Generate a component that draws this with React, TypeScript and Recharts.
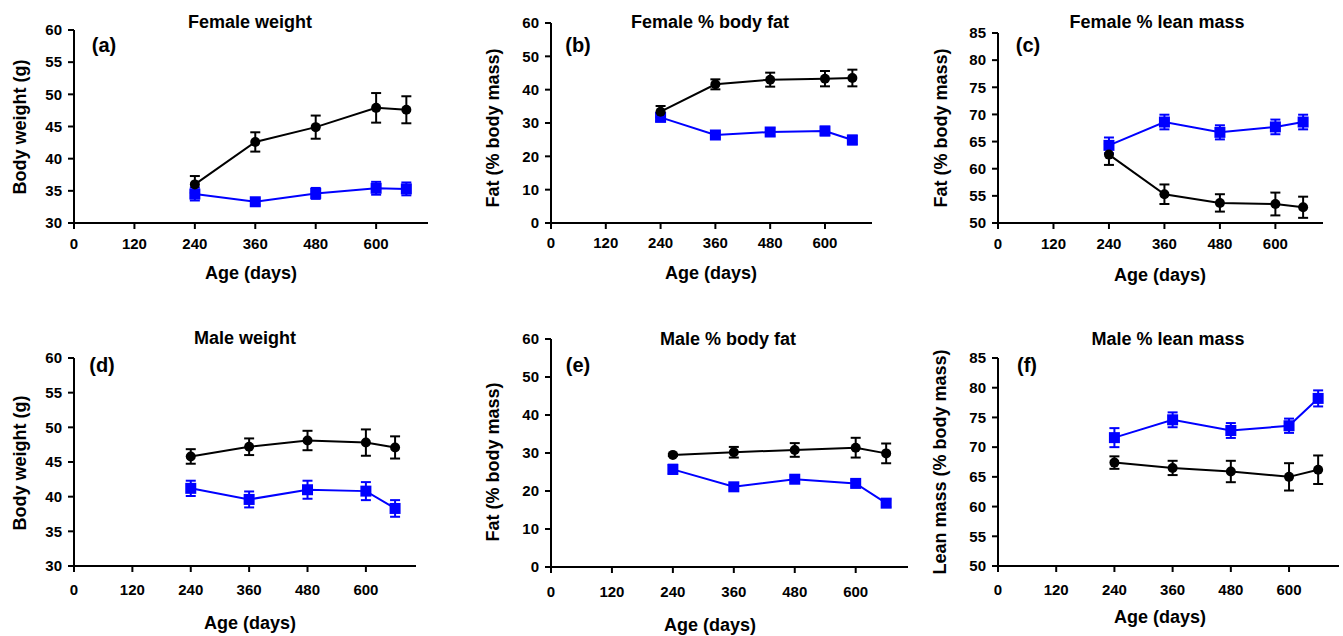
import React from 'react';
import { LineChart, Line, XAxis, YAxis, ErrorBar } from 'recharts';

const AGES = [240, 360, 480, 600, 660];
const X_TICKS = [0, 120, 240, 360, 480, 600];
const W_TICKS = [30, 35, 40, 45, 50, 55, 60];
const F_TICKS = [0, 10, 20, 30, 40, 50, 60];
const L_TICKS = [50, 55, 60, 65, 70, 75, 80, 85];

// (a) Female weight
const aBlack = [36.0, 42.6, 44.9, 47.9, 47.6];
const aBlackErr = [1.3, 1.5, 1.8, 2.3, 2.1];
const aBlue = [34.5, 33.3, 34.6, 35.4, 35.3];
const aBlueErr = [1.0, 0.5, 0.85, 1.0, 1.0];
// (b) Female % body fat
const bBlack = [33.4, 41.6, 43.0, 43.3, 43.5];
const bBlackErr = [1.7, 1.5, 2.1, 2.3, 2.5];
const bBlue = [31.7, 26.4, 27.3, 27.6, 24.9];
const bBlueErr = [1.2, 0.8, 1.2, 1.3, 1.3];
// (c) Female % lean mass
const cBlack = [62.6, 55.3, 53.7, 53.5, 52.9];
const cBlackErr = [1.9, 1.8, 1.6, 2.1, 1.95];
const cBlue = [64.3, 68.6, 66.7, 67.7, 68.6];
const cBlueErr = [1.45, 1.35, 1.3, 1.35, 1.35];
// (d) Male weight
const dBlack = [45.8, 47.2, 48.1, 47.8, 47.1];
const dBlackErr = [1.05, 1.2, 1.4, 1.9, 1.6];
const dBlue = [41.2, 39.6, 41.0, 40.8, 38.3];
const dBlueErr = [1.1, 1.15, 1.3, 1.3, 1.2];
// (e) Male % body fat
const eBlack = [29.5, 30.2, 30.8, 31.4, 29.9];
const eBlackErr = [0.3, 1.4, 1.8, 2.6, 2.6];
const eBlue = [25.7, 21.1, 23.1, 22.0, 16.8];
const eBlueErr = [1.2, 0.8, 0.8, 0.8, 1.0];
// (f) Male % lean mass
const fBlack = [67.4, 66.5, 65.9, 65.0, 66.2];
const fBlackErr = [1.05, 1.2, 1.8, 2.3, 2.4];
const fBlue = [71.6, 74.6, 72.8, 73.6, 78.2];
const fBlueErr = [1.6, 1.25, 1.25, 1.2, 1.35];

const FONT = '"Liberation Sans", Arial, Helvetica, sans-serif';
const BLUE = '#0000ff';
const YW = 80;
const MT = 30;

type PanelProps = {
  pl: number; pt: number; pr: number; pb: number;
  domain: [number, number]; yTicks: number[];
  black: number[]; blackErr: number[]; blue: number[]; blueErr: number[];
  title: string; letter: string; ylabel: string;
  titleC: [number, number]; letterC: [number, number]; ylabelC: [number, number]; xlabelC: [number, number];
  xTickMargin: number;
};

const Square = (props: any) => {
  const { cx, cy, index } = props;
  if (cx == null || cy == null) return <g key={`s${index}`} />;
  return <rect key={`s${index}`} x={cx - 5.5} y={cy - 5.5} width={11} height={11} fill={BLUE} />;
};

const Panel = (p: PanelProps) => {
  const data = AGES.map((age, i) => ({
    age,
    black: p.black[i], blackErr: p.blackErr[i],
    blue: p.blue[i], blueErr: p.blueErr[i],
  }));
  const pw = p.pr - p.pl;
  const ph = p.pb - p.pt;
  const txt: React.CSSProperties = {
    position: 'absolute', fontWeight: 'bold', fontSize: 18, lineHeight: 1,
    whiteSpace: 'nowrap', color: '#000', transform: 'translate(-50%,-50%)',
  };
  return (
    <>
      <div style={{ position: 'absolute', left: p.pl - YW, top: p.pt - MT }}>
        <LineChart width={pw + YW + 4} height={ph + MT + 40} data={data}
          margin={{ top: MT, right: 4, left: 0, bottom: 0 }}>
          <XAxis dataKey="age" type="number" domain={[0, 703]} ticks={X_TICKS}
            allowDataOverflow interval={0} height={40}
            axisLine={{ stroke: '#000', strokeWidth: 2 }}
            tickLine={{ stroke: '#000', strokeWidth: 2 }} tickSize={6} tickMargin={p.xTickMargin}
            tick={{ fontSize: 15, fontWeight: 'bold', fill: '#000' }} />
          <YAxis type="number" domain={p.domain} ticks={p.yTicks} allowDataOverflow interval={0}
            width={YW}
            axisLine={{ stroke: '#000', strokeWidth: 2 }}
            tickLine={{ stroke: '#000', strokeWidth: 2 }} tickSize={6} tickMargin={6}
            tick={{ fontSize: 15, fontWeight: 'bold', fill: '#000' }} />
          <Line dataKey="blue" stroke={BLUE} strokeWidth={2} isAnimationActive={false}
            dot={Square} activeDot={false}>
            <ErrorBar dataKey="blueErr" direction="y" width={5} stroke={BLUE} strokeWidth={2} isAnimationActive={false} />
          </Line>
          <Line dataKey="black" stroke="#000" strokeWidth={2} isAnimationActive={false}
            dot={{ r: 5, fill: '#000', stroke: '#000', strokeWidth: 0 }} activeDot={false}>
            <ErrorBar dataKey="blackErr" direction="y" width={5} stroke="#000" strokeWidth={2} isAnimationActive={false} />
          </Line>
        </LineChart>
      </div>
      <div style={{ ...txt, left: p.titleC[0], top: p.titleC[1] }}>{p.title}</div>
      <div style={{ ...txt, fontSize: 20, left: p.letterC[0], top: p.letterC[1] }}>{p.letter}</div>
      <div style={{ ...txt, left: p.ylabelC[0], top: p.ylabelC[1], transform: 'translate(-50%,-50%) rotate(-90deg)' }}>{p.ylabel}</div>
      <div style={{ ...txt, left: p.xlabelC[0], top: p.xlabelC[1] }}>Age (days)</div>
    </>
  );
};

export default function App() {
  return (
    <div style={{ position: 'absolute', left: 0, top: 0, width: 1343, height: 636, overflow: 'hidden', background: '#fff', fontFamily: FONT }}>
      <Panel pl={74} pt={30} pr={428} pb={223} domain={[30, 60]} yTicks={W_TICKS}
        black={aBlack} blackErr={aBlackErr} blue={aBlue} blueErr={aBlueErr}
        title="Female weight" letter="(a)" ylabel="Body weight (g)"
        titleC={[250, 22]} letterC={[104, 45]} ylabelC={[20, 127]} xlabelC={[251, 273]} xTickMargin={9} />
      <Panel pl={551} pt={23} pr={872} pb={223} domain={[0, 60]} yTicks={F_TICKS}
        black={bBlack} blackErr={bBlackErr} blue={bBlue} blueErr={bBlueErr}
        title="Female % body fat" letter="(b)" ylabel="Fat (% body mass)"
        titleC={[710, 22]} letterC={[578, 45]} ylabelC={[493, 128]} xlabelC={[711, 273]} xTickMargin={8} />
      <Panel pl={998} pt={33} pr={1323} pb={223} domain={[50, 85]} yTicks={L_TICKS}
        black={cBlack} blackErr={cBlackErr} blue={cBlue} blueErr={cBlueErr}
        title="Female % lean mass" letter="(c)" ylabel="Fat (% body mass)"
        titleC={[1157, 22]} letterC={[1028, 45]} ylabelC={[941, 128]} xlabelC={[1160, 275]} xTickMargin={9} />
      <Panel pl={74} pt={358} pr={416} pb={566} domain={[30, 60]} yTicks={W_TICKS}
        black={dBlack} blackErr={dBlackErr} blue={dBlue} blueErr={dBlueErr}
        title="Male weight" letter="(d)" ylabel="Body weight (g)"
        titleC={[245, 338]} letterC={[102, 365]} ylabelC={[20, 463]} xlabelC={[250, 623]} xTickMargin={12} />
      <Panel pl={551} pt={339} pr={908} pb={567} domain={[0, 60]} yTicks={F_TICKS}
        black={eBlack} blackErr={eBlackErr} blue={eBlue} blueErr={eBlueErr}
        title="Male % body fat" letter="(e)" ylabel="Fat (% body mass)"
        titleC={[728, 339]} letterC={[578, 365]} ylabelC={[493, 462]} xlabelC={[710, 625]} xTickMargin={13} />
      <Panel pl={998} pt={358} pr={1339} pb={566} domain={[50, 85]} yTicks={L_TICKS}
        black={fBlack} blackErr={fBlackErr} blue={fBlue} blueErr={fBlueErr}
        title="Male % lean mass" letter="(f)" ylabel="Lean mass (% body mass)"
        titleC={[1168, 339]} letterC={[1027, 365]} ylabelC={[940, 462]} xlabelC={[1160, 617]} xTickMargin={12} />
    </div>
  );
}
